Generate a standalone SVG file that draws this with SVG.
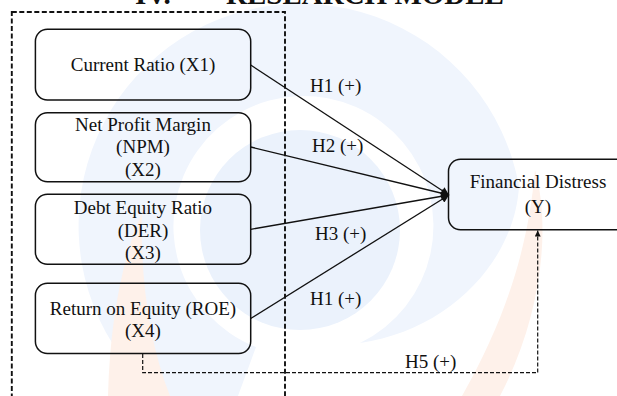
<svg xmlns="http://www.w3.org/2000/svg" width="617" height="396" viewBox="0 0 617 396">
<defs>
<style>
.t{font-family:"Liberation Serif","Times New Roman",serif;font-size:19px;fill:#111;text-anchor:middle}
.lb{font-family:"Liberation Serif","Times New Roman",serif;font-size:19px;fill:#111}
.box{fill:none;stroke:#111;stroke-width:1.5}
.ln{stroke:#111;stroke-width:1.3;fill:none}
.ttl{font-family:"Liberation Serif","Times New Roman",serif;font-weight:bold;font-size:29px;fill:#111}
</style>
<marker id="ah" viewBox="0 0 10 10" refX="10" refY="5" markerWidth="9" markerHeight="8" markerUnits="userSpaceOnUse" orient="auto"><path d="M0,0 L10,5 L0,10 z" fill="#111"/></marker>
<marker id="ah2" viewBox="0 0 10 10" refX="10" refY="5" markerWidth="7" markerHeight="6" markerUnits="userSpaceOnUse" orient="auto"><path d="M0,0 L10,5 L0,10 z" fill="#111"/></marker>
</defs>
<rect width="617" height="396" fill="#fff"/>
<g id="watermark">
<path d="M224,434 A222,222 0 1 1 519,186 C515,260 450,330 360,343 A130,130 0 1 0 256,347 Z" fill="#f0f5fd"/>
<circle cx="300" cy="230" r="100" fill="#ebf2fc"/>
<path d="M108,396 C110,320 122,260 142,212 C140,280 150,345 170,396 Z" fill="#fef1ea"/>
<path d="M535,170 C552,230 540,320 500,396 L462,396 C505,320 528,250 535,170 Z" fill="#fef1ea"/>
</g>
<text class="ttl" x="135" y="4">IV.</text>
<text class="ttl" x="226" y="4">RESEARCH MODEL</text>
<rect x="11.8" y="12" width="273.2" height="400" fill="none" stroke="#111" stroke-width="1.9" stroke-dasharray="5 2.5"/>
<g id="connectors">
<line class="ln" x1="250.7" y1="65" x2="449" y2="195" marker-end="url(#ah)"/>
<line class="ln" x1="250.7" y1="147" x2="449" y2="195" marker-end="url(#ah)"/>
<line class="ln" x1="250.7" y1="229.3" x2="449" y2="195" marker-end="url(#ah)"/>
<line class="ln" x1="250.7" y1="318.5" x2="449" y2="195" marker-end="url(#ah)"/>
<path d="M142.7,354 V372.7 H537.7 V230.5" fill="none" stroke="#111" stroke-width="1.2" stroke-dasharray="4 2" marker-end="url(#ah2)"/>
<text class="lb" x="310" y="92">H1 (+)</text>
<text class="lb" x="312" y="152">H2 (+)</text>
<text class="lb" x="315" y="240">H3 (+)</text>
<text class="lb" x="310" y="305">H1 (+)</text>
<text class="lb" x="405" y="368">H5 (+)</text>
</g>
<g id="x1"><rect class="box" x="35.4" y="29.3" width="215.3" height="70.7" rx="12"/><text class="t" x="143" y="71">Current Ratio (X1)</text></g>
<g id="x2"><rect class="box" x="35.4" y="112.7" width="215.3" height="69" rx="12"/><text class="t" x="143" y="130.7">Net Profit Margin</text><text class="t" x="143" y="153.3">(NPM)</text><text class="t" x="143" y="176">(X2)</text></g>
<g id="x3"><rect class="box" x="35.4" y="194.3" width="215.3" height="70" rx="12"/><text class="t" x="143" y="214">Debt Equity Ratio</text><text class="t" x="143" y="236.7">(DER)</text><text class="t" x="143" y="259.3">(X3)</text></g>
<g id="x4"><rect class="box" x="35.4" y="283.3" width="215.3" height="70.3" rx="12"/><text class="t" x="143" y="315">Return on Equity (ROE)</text><text class="t" x="143" y="337.3">(X4)</text></g>
<g id="y"><rect class="box" x="448.5" y="159.3" width="180" height="70.5" rx="12"/><text class="t" x="538" y="188.3">Financial Distress</text><text class="t" x="538" y="213">(Y)</text></g>
</svg>
